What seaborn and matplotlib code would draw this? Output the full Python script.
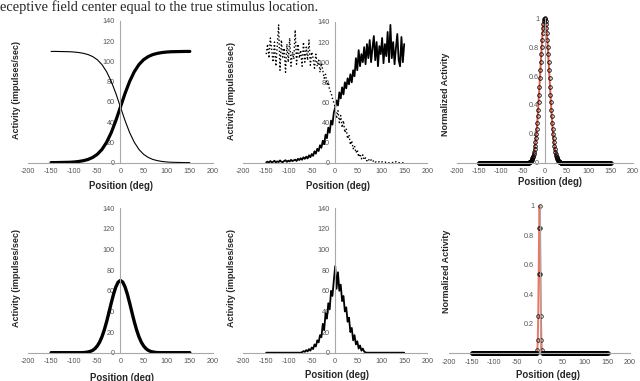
import seaborn as sns
import matplotlib.pyplot as plt

# stimulus positions (deg)
pos_smooth = list(range(-150, 151, 10))
pos_noisy = list(range(-150, 151, 3))
pos_tuning = list(range(-150, 151, 5))
pos_fine = list(range(-150, 151, 1))

# top left: two population responses (smooth)
sig_up = [0.1, 0.1, 0.2, 0.3, 0.4, 0.7, 1.2, 2.0, 3.2, 5.2, 8.3, 13.1, 20.1, 29.6, 41.5, 55.0,
          68.5, 80.4, 89.9, 96.9, 101.7, 104.8, 106.8, 108.0, 108.8, 109.3, 109.6, 109.7, 109.8,
          109.9, 109.9]
sig_down = [109.9, 109.9, 109.8, 109.7, 109.6, 109.3, 108.8, 108.0, 106.8, 104.8, 101.7, 96.9,
            89.9, 80.4, 68.5, 55.0, 41.5, 29.6, 20.1, 13.1, 8.3, 5.2, 3.2, 2.0, 1.2, 0.7, 0.4,
            0.3, 0.2, 0.1, 0.1]

# top middle: same responses with noise
noisy_up = [0.5, 1.2, 0.3, 1.8, 0.6, 1.0, 2.1, 0.4, 1.5, 0.8, 2.4, 1.1, 0.7, 1.9, 2.6, 1.0, 2.2,
            1.4, 3.0, 1.8, 2.5,
            3.2, 1.9, 4.0, 2.8, 4.6, 3.1, 5.5, 4.0, 6.2, 4.4, 7.5, 5.6, 8.8,
            7.0, 11.5, 9.2, 14.0, 11.8, 17.5, 15.0,
            22.0, 18.5, 28.0, 24.5, 35.0, 30.0, 42.0, 38.0, 50.0, 55.0,
            62.0, 57.0, 70.0, 64.0, 75.0, 68.0, 80.0,
            74.0, 84.0, 78.0, 88.0, 80.0, 92.0, 86.0,
            104.0, 92.0, 112.0, 96.0, 108.0, 100.0, 115.0,
            98.0, 118.0, 104.0, 122.0, 100.0, 114.0, 126.0, 102.0, 120.0, 96.0, 116.0, 108.0,
            124.0, 99.0, 118.0, 106.0, 130.0, 100.0, 137.0, 104.0, 120.0, 98.0, 114.0, 128.0,
            102.0, 96.0, 125.0, 100.0, 118.0]
noisy_down = [108, 118, 104, 124, 112, 100, 120, 96, 116, 137, 92, 122, 105, 114, 90, 118, 100,
              124, 96, 110, 103,
              132, 98, 118, 104, 112, 96, 120, 100, 115, 102, 122, 97, 110,
              104, 94, 108, 96, 102, 90, 99,
              92, 84, 88, 78, 80, 72, 70, 64, 60, 55,
              44, 52, 40, 47, 35, 42, 30,
              34, 24, 28, 18, 22, 14, 17,
              10, 13, 6, 9, 4, 8, 3,
              5, 2, 4, 1.5, 3, 1, 2.5, 0.8, 1.5, 0.5, 1.2, 0.3, 1, 0.4, 0.8, 0.2, 0.6, 0.1,
              0.5, 0.2, 0.4, 0.1, 1.2, 0.2, 0.3, 0.1, 0.2, 0.1, 0.3]

# bottom left / middle: tuning curve, clean and noisy
tuning = [0.0] * 14 + [0.1, 0.3, 0.7, 1.3, 2.3, 4.0, 6.6, 10.3, 15.4, 22.0, 29.9, 38.8, 48.0,
                       56.6, 63.7, 68.4, 70.0, 68.4, 63.7, 56.6, 48.0, 38.8, 29.9, 22.0, 15.4,
                       10.3, 6.6, 4.0, 2.3, 1.3, 0.7, 0.3, 0.1] + [0.0] * 14
noisy_tuning = [0.0] * 26 + [0.5, 1.5, 0.8, 2.5, 1.2, 3.5, 2.0, 5.0, 3.5, 8.0, 6.0, 12.0, 10.0,
                             17.0, 15.0, 28.0, 22.0, 38.0, 33.0, 48.0, 42.0, 60.0, 55.0, 70.0,
                             84.0, 62.0, 78.0, 60.0, 66.0, 50.0, 55.0, 40.0, 44.0, 30.0, 34.0,
                             20.0, 24.0, 12.0, 17.0, 8.0, 11.0, 4.0, 7.0, 2.0, 4.0, 1.0,
                             0.3] + [0.0] * 28

# right column: normalized activity
norm_wide = [0.0] * 115 + [0.004, 0.006, 0.008, 0.010, 0.014, 0.018, 0.024, 0.031, 0.039, 0.049,
                           0.062, 0.077, 0.095, 0.116, 0.140, 0.169, 0.201, 0.236, 0.276, 0.320,
                           0.367, 0.418, 0.471, 0.527, 0.584, 0.641, 0.697, 0.752, 0.804, 0.852,
                           0.895, 0.931, 0.961, 0.982, 0.996, 1.0, 0.996, 0.982, 0.961, 0.931,
                           0.895, 0.852, 0.804, 0.752, 0.697, 0.641, 0.584, 0.527, 0.471, 0.418,
                           0.367, 0.320, 0.276, 0.236, 0.201, 0.169, 0.140, 0.116, 0.095, 0.077,
                           0.062, 0.049, 0.039, 0.031, 0.024, 0.018, 0.014, 0.010, 0.008, 0.006,
                           0.004] + [0.0] * 115
norm_narrow = [0.0] * 144 + [0.003, 0.02, 0.09, 0.25, 0.54, 0.85, 1.0, 0.85, 0.54, 0.25, 0.09,
                             0.02, 0.003] + [0.0] * 144

rate_ticks = list(range(0, 141, 20))
rate_labels = [str(t) for t in rate_ticks]
norm_ticks = [0, 0.2, 0.4, 0.6, 0.8, 1.0]
norm_labels = ['0', '0.2', '0.4', '0.6', '0.8', '1']

sns.set_style('white')
plt.rcParams['font.family'] = ['Liberation Sans', 'DejaVu Sans']
plt.rcParams['axes.unicode_minus'] = False

AXIS_GRAY = '#a8a8a8'
RED = '#e4604c'


def style_axis(ax, ymax, yticks, ylabels, ylab, ylab_xy, xlab_xy):
    ax.set_xlim(-200, 200)
    ax.set_ylim(0, ymax)
    ax.spines['left'].set_position(('data', 0))
    ax.spines['top'].set_visible(False)
    ax.spines['right'].set_visible(False)
    for s in ['left', 'bottom']:
        ax.spines[s].set_color(AXIS_GRAY)
        ax.spines[s].set_linewidth(0.8)
    ax.set_xticks(range(-200, 201, 50))
    ax.set_yticks(yticks)
    ax.set_yticklabels(ylabels)
    ax.tick_params(length=2, width=0.6, color=AXIS_GRAY, labelsize=5.2,
                   labelcolor='#555555', pad=2)
    ax.set_xlabel('Position (deg)', fontsize=6.9, fontweight='bold')
    ax.set_ylabel(ylab, fontsize=6.5, fontweight='bold')
    ax.xaxis.set_label_coords(*xlab_xy)
    ax.yaxis.set_label_coords(*ylab_xy)
    ax.xaxis.label.set_verticalalignment('center')
    ax.yaxis.label.set_verticalalignment('center')


fig = plt.figure(figsize=(6.4, 3.81), dpi=100)

fig.text(0.0, 1 - 7 / 381, 'eceptive field center equal to the true stimulus location.',
         family=['Liberation Serif', 'DejaVu Serif'], fontsize=10.4, ha='left', va='center')

# top left
ax1 = fig.add_axes([0.0437, 0.573, 0.289, 0.372])
sns.lineplot(x=pos_smooth, y=sig_down, ax=ax1, color='black', lw=0.8, estimator=None)
sns.lineplot(x=pos_smooth, y=sig_up, ax=ax1, color='black', lw=2.3, estimator=None)
style_axis(ax1, 140, rate_ticks, rate_labels, 'Activity (impulses/sec)',
           (-0.06, 0.513), (0.503, -0.164))

# top middle
ax2 = fig.add_axes([0.380, 0.5725, 0.2875, 0.370])
sns.lineplot(x=pos_noisy, y=noisy_down, ax=ax2, color='black', lw=1.0, linestyle=':',
             estimator=None)
sns.lineplot(x=pos_noisy, y=noisy_up, ax=ax2, color='black', lw=1.3, estimator=None)
style_axis(ax2, 140, rate_ticks, rate_labels, 'Activity (impulses/sec)',
           (-0.061, 0.513), (0.515, -0.164))

# top right
ax3 = fig.add_axes([0.7136, 0.573, 0.275, 0.379])
sns.lineplot(x=pos_fine, y=norm_wide, ax=ax3, color=RED, lw=1.4, estimator=None,
             marker='o', markersize=2.6, markerfacecolor='none', markeredgecolor='black',
             markeredgewidth=0.6, clip_on=False)
style_axis(ax3, 1.0, norm_ticks, norm_labels, 'Normalized Activity',
           (-0.061, 0.474), (0.53, -0.134))

# bottom left
ax4 = fig.add_axes([0.0437, 0.0743, 0.289, 0.379])
sns.lineplot(x=pos_tuning, y=tuning, ax=ax4, color='black', lw=2.4, estimator=None)
style_axis(ax4, 140, rate_ticks, rate_labels, 'Activity (impulses/sec)',
           (-0.06, 0.517), (0.508, -0.172))

# bottom middle
ax5 = fig.add_axes([0.380, 0.0743, 0.2875, 0.379])
sns.lineplot(x=pos_noisy, y=noisy_tuning, ax=ax5, color='black', lw=1.3, estimator=None)
style_axis(ax5, 140, rate_ticks, rate_labels, 'Activity (impulses/sec)',
           (-0.061, 0.517), (0.509, -0.154))

# bottom right
ax6 = fig.add_axes([0.7016, 0.0727, 0.283, 0.387])
sns.lineplot(x=pos_fine, y=norm_narrow, ax=ax6, color=RED, lw=1.4, alpha=0.85, estimator=None,
             marker='o', markersize=2.6, markerfacecolor='none', markeredgecolor='black',
             markeredgewidth=0.6, clip_on=False)
style_axis(ax6, 1.0, norm_ticks, norm_labels, 'Normalized Activity',
           (-0.013, 0.554), (0.547, -0.147))

fig.savefig('out.png', dpi=100)
plt.close(fig)
